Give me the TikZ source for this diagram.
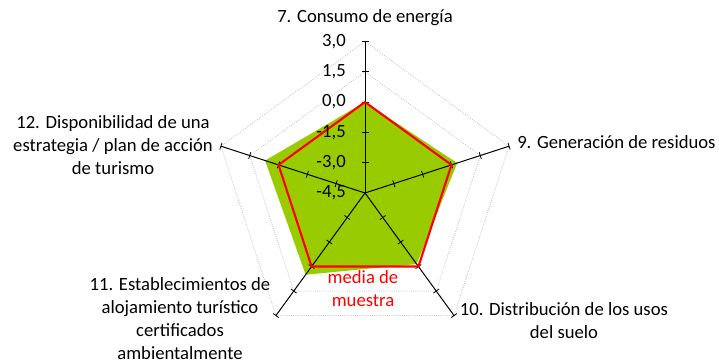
\documentclass[tikz,border=0pt]{standalone}
\usepackage{fontspec}
\setmainfont{Carlito}
\definecolor{fillgreen}{HTML}{99CC00}
\definecolor{gridgray}{HTML}{BFBFBF}
\begin{document}
\begin{tikzpicture}[x=0.75pt,y=0.75pt,
  gridline/.style={gridgray, densely dotted, line width=0.6pt},
  axisline/.style={black, line width=0.75pt},
  tickmark/.style={black, line width=0.6pt},
  lab/.style={font=\fontsize{14}{17.3}\selectfont, align=center, inner sep=0pt},
  ticklab/.style={font=\fontsize{14}{17.6}\selectfont, anchor=east, inner sep=0pt},
  series/.style={red, line width=1.6pt, line join=miter},
]
\useasboundingbox (0,0) rectangle (719,363);
\coordinate (C) at (365,170);
\def\R{151.5}
\begin{scope}[shift={(C)}]
  % grid rings
  \foreach \v in {-3.0,-1.5,0.0,1.5,3.0}{
    \pgfmathsetmacro\r{(\v+4.5)/7.5*\R}
    \draw[gridline] (90:\r) -- (18:\r) -- (-54:\r) -- (-126:\r) -- (162:\r) -- cycle;
  }
  % green series
  \def\rr#1{(#1+4.5)/7.5*\R}
  \fill[fillgreen] (90:{\rr{0.0}}) -- (18:{\rr{0.3}}) -- (-54:{\rr{-0.15}}) -- (-126:{\rr{0.5}}) -- (162:{\rr{0.7}}) -- cycle;
  % axes with ticks
  \foreach \a in {90,18,-54,-126,162}{
    \coordinate (E\a) at (\a:\R);
    \draw[axisline] (0,0) -- (E\a);
    \foreach \k in {1,...,5}{
      \pgfmathsetmacro\r{\k*\R/5}
      \draw[tickmark] ([shift={(\a+90:3.5)}]\a:\r) -- ([shift={(\a-90:3.5)}]\a:\r);
    }
  }
  % red series (media de muestra)
  \draw[series] (90:{\rr{0}}) -- (18:{\rr{0}}) -- (-54:{\rr{0}}) -- (-126:{\rr{0}}) -- (162:{\rr{0}}) -- cycle;
  % tick labels
  \foreach \k/\t in {0/{-4,5},1/{-3,0},2/{-1,5},3/{0,0},4/{1,5},5/{3,0}}{
    \node[ticklab] (t\k) at (-19,{\k*\R/5}) {\t};
  }
\end{scope}
% category labels
\node[lab] (l7) at (365,345) {7. Consumo de energía};
\node[lab, anchor=west] (l9) at (517,221) {9. Generación de residuos};
\node[lab] (l10) at (564,42) {10. Distribución de los usos\\del suelo};
\node[lab] (l11) at (180,44.5) {11. Establecimientos de\\alojamiento turístico\\certificados\\ambientalmente};
\node[lab] (l12) at (113,218) {12. Disponibilidad de una\\estrategia / plan de acción\\de turismo};
\node[lab, text=red] (leg) at (363,74) {media de\\muestra};
\end{tikzpicture}
\end{document}
